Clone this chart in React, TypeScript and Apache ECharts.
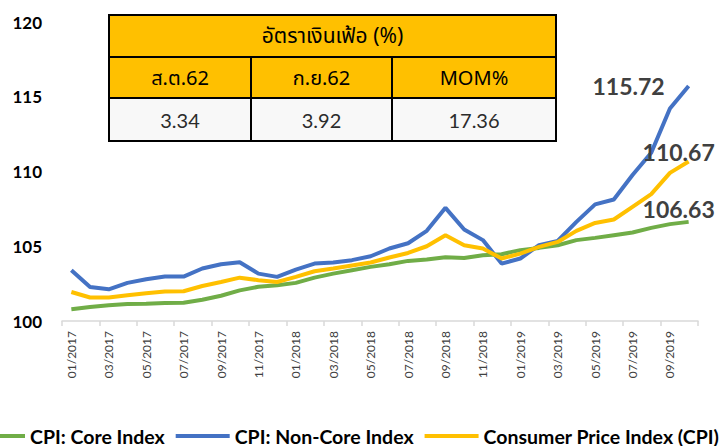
import React, { useEffect, useRef } from "react";
import * as echarts from "echarts";

const months: string[] = [
  "01/2017", "02/2017", "03/2017", "04/2017", "05/2017", "06/2017", "07/2017", "08/2017", "09/2017", "10/2017", "11/2017", "12/2017",
  "01/2018", "02/2018", "03/2018", "04/2018", "05/2018", "06/2018", "07/2018", "08/2018", "09/2018", "10/2018", "11/2018", "12/2018",
  "01/2019", "02/2019", "03/2019", "04/2019", "05/2019", "06/2019", "07/2019", "08/2019", "09/2019", "10/2019",
];

const coreIndex: number[] = [
  100.79, 100.94, 101.06, 101.13, 101.15, 101.2, 101.22, 101.42, 101.69, 102.05, 102.29, 102.39,
  102.55, 102.9, 103.17, 103.4, 103.62, 103.8, 104.02, 104.11, 104.27, 104.22, 104.4, 104.47,
  104.74, 104.89, 105.07, 105.41, 105.56, 105.74, 105.92, 106.23, 106.48, 106.63,
];

const nonCoreIndex: number[] = [
  103.4, 102.28, 102.12, 102.55, 102.79, 102.97, 102.97, 103.51, 103.8, 103.93, 103.17, 102.95,
  103.44, 103.84, 103.91, 104.07, 104.33, 104.85, 105.2, 106.03, 107.57, 106.12, 105.41, 103.84,
  104.18, 105.07, 105.36, 106.63, 107.8, 108.13, 109.76, 111.25, 114.22, 115.72,
];

const cpiIndex: number[] = [
  101.94, 101.57, 101.57, 101.72, 101.86, 101.97, 101.99, 102.34, 102.61, 102.9, 102.73, 102.61,
  102.95, 103.33, 103.51, 103.71, 103.91, 104.25, 104.55, 105.0, 105.74, 105.07, 104.85, 104.18,
  104.51, 104.96, 105.29, 106.03, 106.56, 106.79, 107.64, 108.49, 109.91, 110.67,
];

const seriesNames: string[] = ["CPI: Core Index", "CPI: Non-Core Index", "Consumer Price Index (CPI)"];

const tableTitle = "อัตราเงินเฟ้อ (%)";
const tableHeaders: string[] = ["ส.ต.62", "ก.ย.62", "MOM%"];
const tableValues: string[] = ["3.34", "3.92", "17.36"];

const FONT = "Lato, 'Noto Sans', sans-serif";
const THAI_FONT = "Tahoma, 'Noto Sans Thai', 'Leelawadee UI', Lato, sans-serif";

export default function App() {
  const ref = useRef<HTMLDivElement>(null);

  useEffect(() => {
    if (!ref.current) return;
    const chart = echarts.init(ref.current, null, { renderer: "svg" });

    const lastLabel = (extra: any) => ({
      show: true,
      fontSize: 23,
      fontWeight: "bold",
      color: "#404040",
      fontFamily: FONT,
      ...extra,
    });

    const withLast = (arr: number[], label: any) =>
      arr.map((v, i) => (i === arr.length - 1 ? { value: v, label } : v));

    // table geometry
    const tx = [109, 251, 392, 556];
    const ty = [15, 57, 98, 141];
    const graphics: any[] = [];
    graphics.push({
      type: "rect",
      shape: { x: tx[0], y: ty[0], width: tx[3] - tx[0], height: ty[1] - ty[0] },
      style: { fill: "#FFC000", stroke: "#000", lineWidth: 2 },
    });
    graphics.push({
      type: "text",
      x: (tx[0] + tx[3]) / 2,
      y: (ty[0] + ty[1]) / 2,
      style: { text: tableTitle, fill: "#000", font: `21px ${THAI_FONT}`, align: "center", verticalAlign: "middle" },
    });
    for (let c = 0; c < 3; c++) {
      graphics.push({
        type: "rect",
        shape: { x: tx[c], y: ty[1], width: tx[c + 1] - tx[c], height: ty[2] - ty[1] },
        style: { fill: "#FFC000", stroke: "#000", lineWidth: 2 },
      });
      graphics.push({
        type: "rect",
        shape: { x: tx[c], y: ty[2], width: tx[c + 1] - tx[c], height: ty[3] - ty[2] },
        style: { fill: "#F8F8F8", stroke: "#000", lineWidth: 2 },
      });
      graphics.push({
        type: "text",
        x: (tx[c] + tx[c + 1]) / 2,
        y: (ty[1] + ty[2]) / 2 + 1,
        style: { text: tableHeaders[c], fill: "#000", font: `20px ${THAI_FONT}`, align: "center", verticalAlign: "middle" },
      });
      graphics.push({
        type: "text",
        x: (tx[c] + tx[c + 1]) / 2,
        y: (ty[2] + ty[3]) / 2,
        style: { text: tableValues[c], fill: "#2b2b2b", font: `400 20px ${FONT}`, align: "center", verticalAlign: "middle" },
      });
    }

    const common = {
      type: "line" as const,
      symbol: "circle",
      symbolSize: 0,
      showSymbol: true,
      showAllSymbol: true,
      lineStyle: { width: 4 },
      emphasis: { disabled: true },
    };

    chart.setOption({
      animation: false,
      grid: { left: 62, right: 22, top: 22, bottom: 125, containLabel: false },
      legend: {
        left: -29,
        top: 425,
        padding: 0,
        icon: "rect",
        itemWidth: 54,
        itemHeight: 4,
        itemGap: 11,
        textStyle: { fontFamily: FONT, fontSize: 19.5, lineHeight: 22, fontWeight: "bold", color: "#000" },
        data: seriesNames,
      },
      xAxis: {
        type: "category",
        data: months,
        boundaryGap: true,
        axisLine: { lineStyle: { color: "#D9D9D9", width: 1.5 } },
        axisTick: { show: true, interval: 1, length: 5, lineStyle: { color: "#D9D9D9", width: 1.5 } },
        axisLabel: { interval: 1, rotate: 90, fontSize: 12, color: "#404040", fontFamily: FONT, margin: 10 },
        splitLine: { show: false },
      },
      yAxis: {
        type: "value",
        min: 100,
        max: 120,
        interval: 5,
        axisLine: { show: false },
        axisTick: { show: false },
        splitLine: { show: false },
        axisLabel: { fontSize: 17, fontWeight: "bold", color: "#000", fontFamily: FONT, margin: 20 },
      },
      graphic: graphics,
      series: [
        {
          ...common,
          name: seriesNames[0],
          color: "#70AD47",
          z: 3,
          data: withLast(coreIndex, lastLabel({ position: "inside", offset: [-10, -13] })),
        },
        {
          ...common,
          name: seriesNames[1],
          color: "#4472C4",
          z: 2,
          data: withLast(nonCoreIndex, lastLabel({ position: "left", distance: 24 })),
        },
        {
          ...common,
          name: seriesNames[2],
          color: "#FFC000",
          z: 4,
          data: withLast(cpiIndex, lastLabel({ position: "inside", offset: [-10, -9] })),
        },
      ],
    });

    return () => chart.dispose();
  }, []);

  return <div ref={ref} style={{ width: 720, height: 446, position: "absolute", left: 0, top: 0 }} />;
}
